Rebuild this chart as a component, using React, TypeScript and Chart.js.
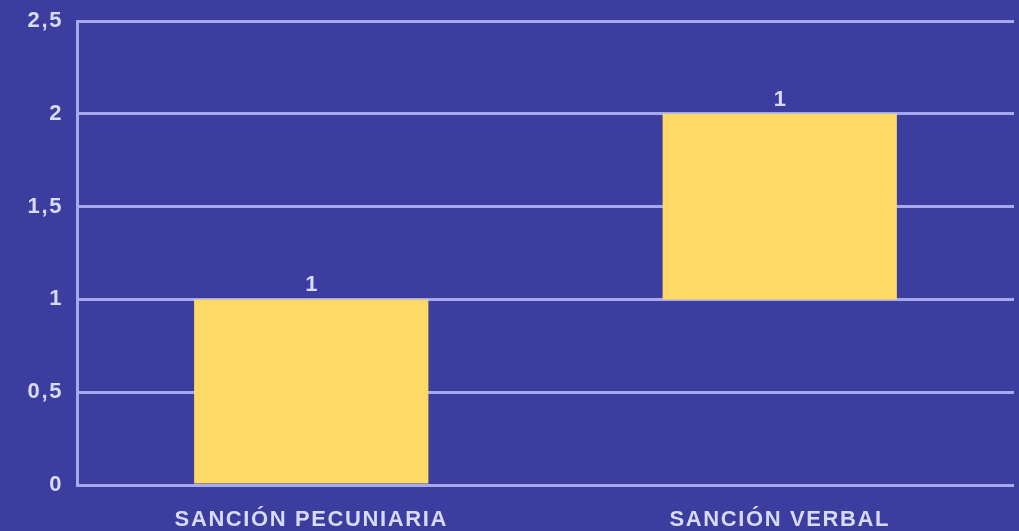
import React, { useEffect, useRef } from "react";
import { Chart, registerables } from "chart.js";

Chart.register(...registerables);

const categories = ["SANCIÓN PECUNIARIA", "SANCIÓN VERBAL"];
const barStarts = [0, 1];
const barEnds = [1, 2];
const valueLabels = ["1", "1"];
const yTickValues = [0, 0.5, 1, 1.5, 2, 2.5];
const yTickLabels = ["0", "0,5", "1", "1,5", "2", "2,5"];

const BG = "#3b3d9f";
const GRID = "#a7a9ef";
const TEXT = "#d8daff";
const BAR = "#ffd966";
const FONT = "'Liberation Sans', Arial, sans-serif";

export default function App() {
  const ref = useRef<HTMLCanvasElement | null>(null);

  useEffect(() => {
    document.body.style.margin = "0";
    const canvas = ref.current;
    if (!canvas) return;

    const spacingPlugin = {
      id: "spacing",
      beforeDraw(chart: any) {
        chart.ctx.letterSpacing = "1.6px";
      },
      afterDraw(chart: any) {
        chart.ctx.letterSpacing = "0px";
      },
    };

    const labelPlugin = {
      id: "valueLabels",
      afterDatasetsDraw(chart: any) {
        const ctx = chart.ctx;
        const meta = chart.getDatasetMeta(0);
        ctx.save();
        ctx.letterSpacing = "0px";
        ctx.fillStyle = TEXT;
        ctx.font = `bold 22px ${FONT}`;
        ctx.textAlign = "center";
        ctx.textBaseline = "alphabetic";
        meta.data.forEach((el: any, i: number) => {
          const top = Math.min(el.y, el.base);
          ctx.fillText(valueLabels[i], el.x, top - 8);
        });
        ctx.restore();
      },
    };

    const chart = new Chart(canvas, {
      type: "bar",
      data: {
        labels: categories,
        datasets: [
          {
            data: barStarts.map((s, i) => [s, barEnds[i]]) as any,
            backgroundColor: BAR,
            borderWidth: 0,
            barPercentage: 1,
            categoryPercentage: 0.5,
          },
        ],
      },
      options: {
        responsive: false,
        maintainAspectRatio: false,
        animation: false,
        layout: { padding: { top: 21, right: 5, left: 0, bottom: 0 } },
        plugins: {
          legend: { display: false },
          tooltip: { enabled: false },
          title: { display: false },
        },
        scales: {
          x: {
            grid: { display: false, drawTicks: false },
            border: { display: false },
            ticks: {
              color: TEXT,
              font: { family: FONT, size: 22, weight: "bold" },
              padding: 22,
              maxRotation: 0,
              autoSkip: false,
            },
            afterFit(scale: any) {
              scale.height = 46;
              scale.paddingLeft = 0;
              scale.paddingRight = 0;
            },
          },
          y: {
            min: 0,
            max: 2.5,
            afterBuildTicks(scale: any) {
              scale.ticks = yTickValues.map((v) => ({ value: v }));
            },
            grid: { color: GRID, lineWidth: 3, drawTicks: false },
            border: { display: true, color: GRID, width: 3 },
            ticks: {
              color: TEXT,
              font: { family: FONT, size: 22, weight: "bold" },
              padding: 14,
              callback: (v: any) => {
                const idx = yTickValues.indexOf(Number(v));
                return idx >= 0 ? yTickLabels[idx] : "";
              },
            },
            afterFit(scale: any) {
              scale.width = 77;
              scale.paddingTop = 0;
              scale.paddingBottom = 0;
            },
          },
        },
      },
      plugins: [spacingPlugin, labelPlugin],
    });

    return () => chart.destroy();
  }, []);

  return (
    <div style={{ width: 1019, height: 531, background: BG }}>
      <canvas ref={ref} width={1019} height={531} style={{ display: "block" }} />
    </div>
  );
}
